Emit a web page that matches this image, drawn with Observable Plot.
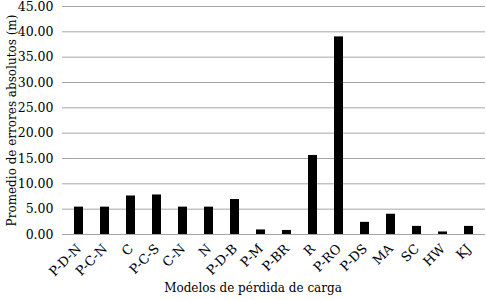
<!DOCTYPE html>
<html><head><meta charset="utf-8">
<script src="https://cdn.jsdelivr.net/npm/d3@7"></script>
<script src="https://cdn.jsdelivr.net/npm/@observablehq/plot@0.6"></script>
<style>body{margin:0;background:#fff}</style>
</head><body><div id="chart"></div>
<script>
const models = ["P-D-N","P-C-N","C","P-C-S","C-N","N","P-D-B","P-M","P-BR","R","P-RO","P-DS","MA","SC","HW","KJ"];
const values = [5.4,5.4,7.6,7.8,5.4,5.4,6.9,0.9,0.8,15.6,39.0,2.4,4.0,1.6,0.5,1.6];
const yTicks = [0,5,10,15,20,25,30,35,40,45];
const xLabel = "Modelos de pérdida de carga";
const yLabel = "Promedio de errores absolutos (m)";
const data = models.map((m,i)=>({model:m, value:values[i]}));
const ff = "DejaVu Serif";
const chart = Plot.plot({
  width: 486, height: 300,
  marginLeft: 62, marginRight: 1, marginTop: 6, marginBottom: 66,
  style: {fontFamily: ff, fontSize: "13px", color: "#000", background: "#fff"},
  x: {domain: models, paddingInner: 0.64, paddingOuter: 0.32},
  y: {domain: [0,45]},
  marks: [
    Plot.gridY(yTicks, {stroke: "#a6a6a6", strokeOpacity: 1, strokeWidth: 1}),
    Plot.barY(data, {x: "model", y: "value", fill: "#000"}),
    Plot.axisY(yTicks, {tickFormat: d3.format(".2f"), tickSize: 0, tickPadding: 9, label: null, fontSize: 12.5, fontFamily: ff}),
    Plot.axisX({tickRotate: -45, tickSize: 0, tickPadding: 12, dx: 0, label: null, fontSize: 13, fontFamily: ff}),
    Plot.text([xLabel], {frameAnchor: "bottom", dx: -21, dy: 57, fontSize: 12, fontFamily: ff, textAnchor: "middle", text: d=>d}),
    Plot.text([yLabel], {frameAnchor: "left", dx: -50, rotate: -90, fontSize: 12, fontFamily: ff, textAnchor: "middle", text: d=>d})
  ]
});
document.getElementById("chart").appendChild(chart);
</script></body></html>
